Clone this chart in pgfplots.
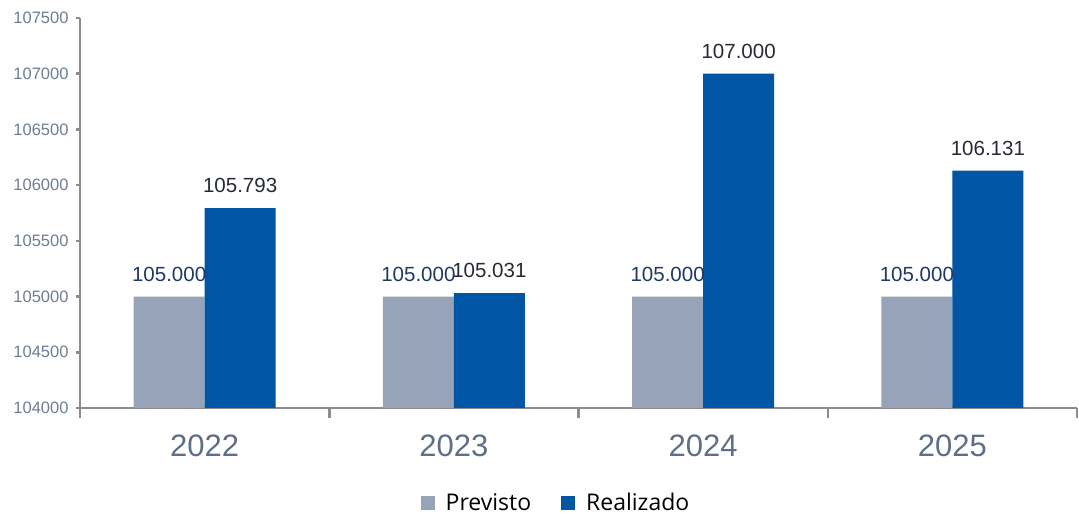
\documentclass[border=0pt]{standalone}
\usepackage{pgfplots}
\usepackage{pgfplotstable}
\pgfplotsset{compat=1.18}
\usepackage{fontspec}
\setmainfont{Liberation Sans}
\newfontfamily\legfont{Open Sans}
\definecolor{prev}{HTML}{96A3B8}
\definecolor{real}{HTML}{0055A5}
\definecolor{axgray}{HTML}{8C8C8C}
\definecolor{ytk}{HTML}{6E7C94}
\definecolor{yrc}{HTML}{5E6E87}
\definecolor{labprev}{HTML}{1F3864}
\definecolor{labreal}{HTML}{262A33}

\pgfplotstableread{
x y lab
0 105000 105.000
1 105000 105.000
2 105000 105.000
3 105000 105.000
}\prevtab
\pgfplotstableread{
x y lab
0 105793 105.793
1 105031 105.031
2 107000 107.000
3 106131 106.131
}\realtab

\begin{document}
\begin{tikzpicture}
\useasboundingbox (0,0) rectangle (1079pt,514pt);
\begin{axis}[
  at={(80pt,106pt)}, anchor=south west,
  width=997pt, height=390pt, scale only axis,
  xmin=-0.5, xmax=3.5,
  ymin=104000, ymax=107500,
  scaled y ticks=false,
  axis x line*=bottom, axis y line*=left,
  axis line style={draw=axgray, line width=2.5pt},
  tick style={draw=axgray, line width=2.5pt},
  tick align=outside,
  major tick length=10pt,
  xtick={-0.5,0.5,1.5,2.5,3.5},
  xticklabels={,,,,},
  extra x ticks={0,1,2,3},
  extra x tick labels={2022,2023,2024,2025},
  extra x tick style={major tick length=0pt, tick label style={font=\fontsize{31}{31}\selectfont, text=yrc, yshift=-23pt}},
  ytick=\empty,
  extra y ticks={104000,104500,105000,105500,106000,106500,107000,107500},
  extra y tick labels={104000,104500,105000,105500,106000,106500,107000,107500},
  extra y tick style={major tick length=4pt, tick label style={font=\fontsize{16.5}{16.5}\selectfont, text=ytk, xshift=-4pt}},
  ybar=0pt, bar width=71pt,
  point meta=explicit symbolic,
  nodes near coords,
  every node near coord/.append style={inner sep=0pt, yshift=15pt, font=\fontsize{20.5}{20.5}\selectfont},
  legend columns=2,
  legend style={at={(0.4774,-0.243)}, anchor=center, draw=none, fill=none, inner sep=0pt,
     font=\legfont\fontsize{23}{23}\selectfont,
     /tikz/every even column/.append style={column sep=28pt}},
  legend image code/.code={\fill[#1, draw=none] (0pt,-7pt) rectangle (14pt,7pt); \path (23pt,0pt);},
]
\addplot[fill=prev, draw=none, every node near coord/.append style={text=labprev}] table[x=x, y=y, meta=lab] {\prevtab};
\addplot[fill=real, draw=none, every node near coord/.append style={text=labreal}] table[x=x, y=y, meta=lab] {\realtab};
\legend{Previsto, Realizado}
\end{axis}
\end{tikzpicture}
\end{document}
